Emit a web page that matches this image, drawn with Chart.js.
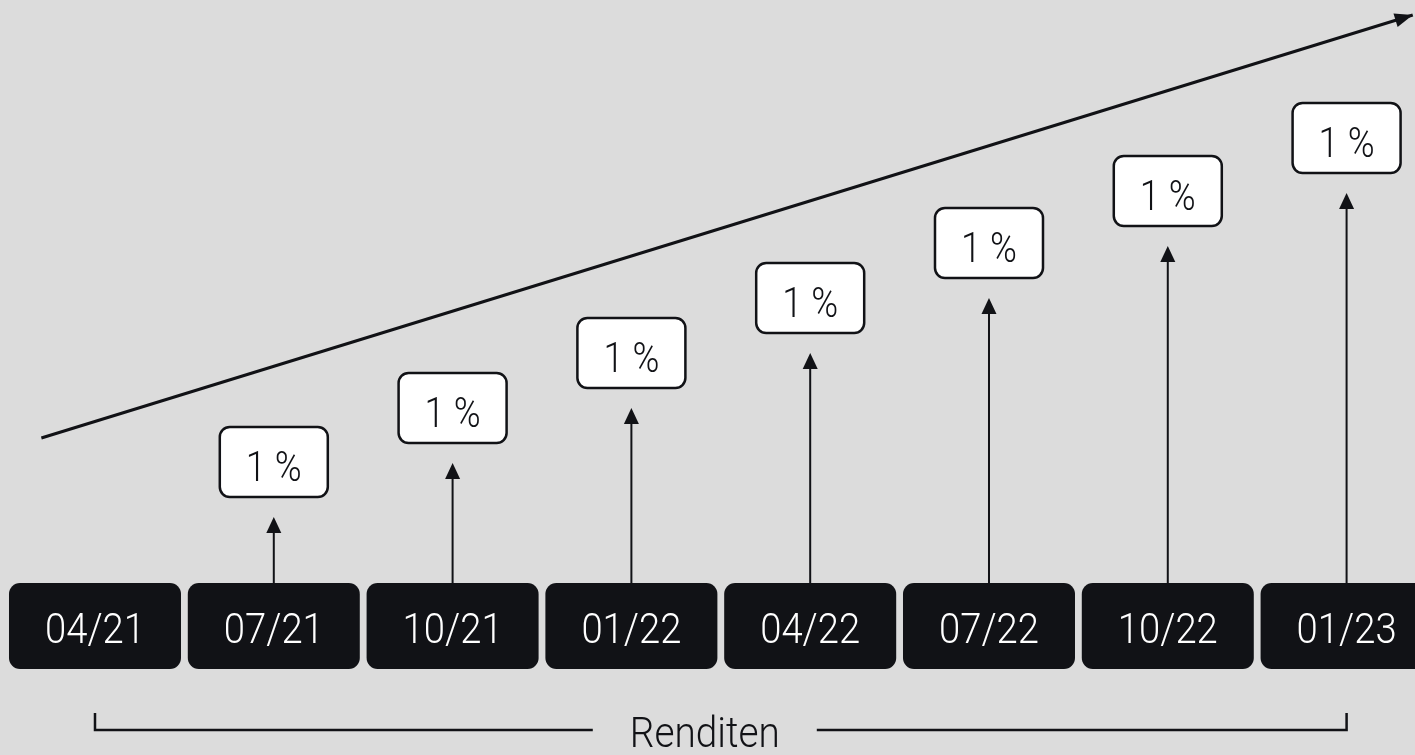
<!DOCTYPE html>
<html lang="de">
<head>
<meta charset="utf-8">
<title>Renditen</title>
<script src="https://cdn.jsdelivr.net/npm/chart.js@4"></script>
<style>
  html, body { margin: 0; padding: 0; background: #dcdcdc; overflow: hidden; }
  #wrap { width: 1415px; height: 755px; }
</style>
</head>
<body>
<div id="wrap"><canvas id="chart" width="1415" height="755"></canvas></div>
<script>
// Quartale (Kategorien) und Renditen
const dates = ['04/21', '07/21', '10/21', '01/22', '04/22', '07/22', '10/22', '01/23'];
const returnLabels = [null, '1 %', '1 %', '1 %', '1 %', '1 %', '1 %', '1 %'];
// kumuliertes Niveau je Quartal (Pfeilspitze)
const arrowLevels = [null, 66, 120, 175, 230, 285, 337, 390];
// Trendlinie (Anfang / Ende)
const trendX = [-0.30, 7.37];
const trendY = [145, 568];
const bracketLabel = 'Renditen';

const INK = '#111216';
const FONT = 'Roboto, "Noto Sans", sans-serif';

function arrowHead(ctx, x, y, angle, len, w) {
  ctx.save();
  ctx.translate(x, y);
  ctx.rotate(angle);
  ctx.beginPath();
  ctx.moveTo(0, 0);
  ctx.lineTo(-len, -w / 2);
  ctx.lineTo(-len, w / 2);
  ctx.closePath();
  ctx.fill();
  ctx.restore();
}

function roundRect(ctx, x, y, w, h, r) {
  ctx.beginPath();
  ctx.moveTo(x + r, y);
  ctx.arcTo(x + w, y, x + w, y + h, r);
  ctx.arcTo(x + w, y + h, x, y + h, r);
  ctx.arcTo(x, y + h, x, y, r);
  ctx.arcTo(x, y, x + w, y, r);
  ctx.closePath();
}

const decorPlugin = {
  id: 'decor',
  afterDatasetsDraw(chart) {
    const ctx = chart.ctx;
    const xs = chart.scales.x, ys = chart.scales.y;
    const base = ys.getPixelForValue(0);
    ctx.save();
    ctx.fillStyle = INK;
    ctx.strokeStyle = INK;

    // Pfeilspitze der Trendlinie
    const t0x = xs.getPixelForValue(trendX[0]), t0y = ys.getPixelForValue(trendY[0]);
    const t1x = xs.getPixelForValue(trendX[1]), t1y = ys.getPixelForValue(trendY[1]);
    arrowHead(ctx, t1x, t1y, Math.atan2(t1y - t0y, t1x - t0x), 18, 14);

    // Quartals-Boxen
    dates.forEach((d, i) => {
      const cx = xs.getPixelForValue(i);
      ctx.fillStyle = INK;
      roundRect(ctx, cx - 86, base, 172, 86, 11);
      ctx.fill();
      ctx.fillStyle = '#ffffff';
      ctx.font = '300 42px ' + FONT;
      ctx.textAlign = 'center';
      ctx.textBaseline = 'alphabetic';
      ctx.fillText(d, cx, base + 60, 100);
    });

    // Pfeile und Renditen-Labels
    const meta = chart.getDatasetMeta(1);
    meta.data.forEach((pt, k) => {
      const i = k + 1;
      const cx = pt.x, tip = pt.y;
      ctx.fillStyle = INK;
      ctx.lineWidth = 2;
      ctx.beginPath();
      ctx.moveTo(cx, base);
      ctx.lineTo(cx, tip + 12);
      ctx.stroke();
      arrowHead(ctx, cx, tip, -Math.PI / 2, 16, 15);

      const bx = cx - 54, by = tip - 20 - 70;
      roundRect(ctx, bx, by, 108, 70, 10);
      ctx.fillStyle = '#ffffff';
      ctx.fill();
      ctx.lineWidth = 2.5;
      ctx.stroke();
      ctx.fillStyle = INK;
      ctx.font = '300 42px ' + FONT;
      ctx.textAlign = 'center';
      ctx.fillText(returnLabels[i], cx, by + 54, 56);
    });

    // Klammer mit Beschriftung
    const bl = xs.getPixelForValue(0), br = xs.getPixelForValue(dates.length - 1);
    const by = ys.getPixelForValue(-147), bt = ys.getPixelForValue(-130);
    const tc = (bl + br) / 2 - 16;
    ctx.font = '300 42px ' + FONT;
    const tw = Math.min(ctx.measureText(bracketLabel).width, 150);
    ctx.lineWidth = 2.5;
    ctx.beginPath();
    ctx.moveTo(bl, bt); ctx.lineTo(bl, by); ctx.lineTo(tc - tw / 2 - 37, by);
    ctx.moveTo(tc + tw / 2 + 37, by); ctx.lineTo(br, by); ctx.lineTo(br, bt);
    ctx.stroke();
    ctx.fillStyle = INK;
    ctx.textAlign = 'center';
    ctx.fillText(bracketLabel, tc, ys.getPixelForValue(-164), 150);
    ctx.restore();
  }
};

new Chart(document.getElementById('chart'), {
  type: 'scatter',
  data: {
    datasets: [
      {
        type: 'line',
        label: 'Trend',
        data: trendX.map((x, i) => ({ x, y: trendY[i] })),
        borderColor: INK,
        borderWidth: 3,
        pointRadius: 0
      },
      {
        label: 'Rendite',
        data: arrowLevels.map((y, i) => ({ x: i, y })).filter(p => p.y !== null),
        pointRadius: 0,
        showLine: false
      }
    ]
  },
  options: {
    responsive: false,
    animation: false,
    devicePixelRatio: 1,
    layout: { padding: 0 },
    plugins: { legend: { display: false }, tooltip: { enabled: false } },
    scales: {
      x: { type: 'linear', min: -0.5313, max: 7.3826, display: false },
      y: { type: 'linear', min: -172, max: 583, display: false }
    }
  },
  plugins: [decorPlugin]
});
</script>
</body>
</html>
